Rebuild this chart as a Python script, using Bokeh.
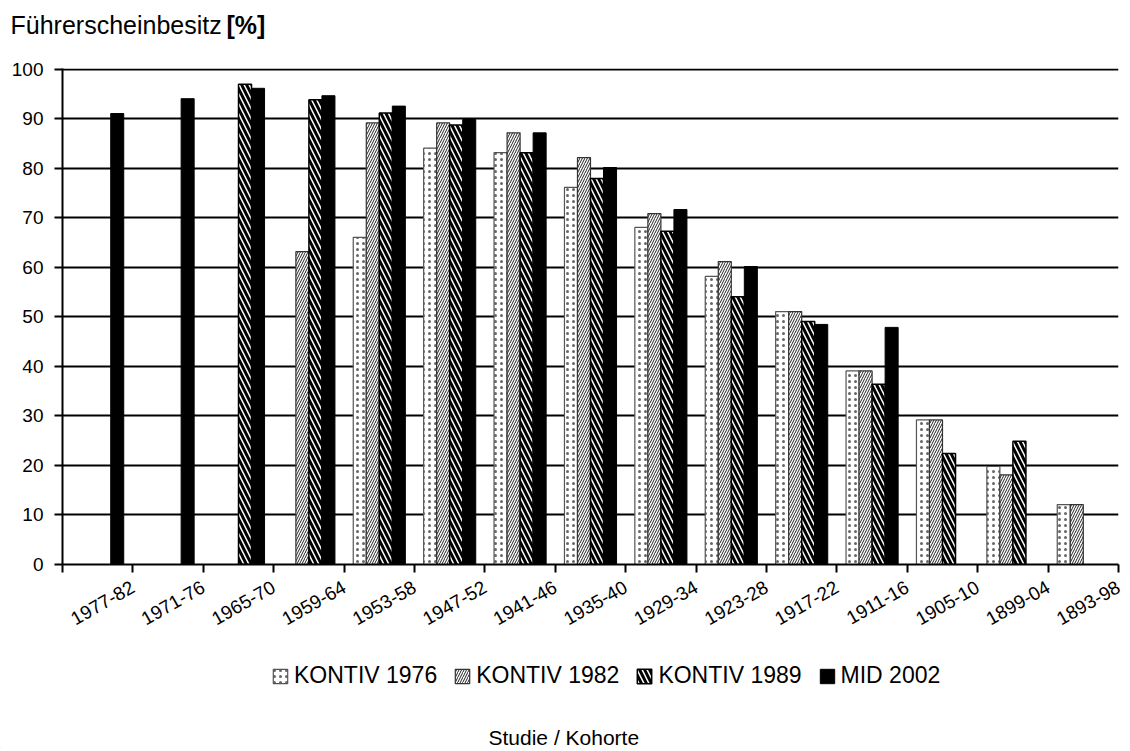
import numpy as np
from bokeh.plotting import figure
from bokeh.layouts import column
from bokeh.models import Range1d, FixedTicker, Legend, LegendItem, Label, ColumnDataSource
from bokeh.embed import file_html
from bokeh.resources import INLINE

cohorts = ["1977-82", "1971-76", "1965-70", "1959-64", "1953-58", "1947-52", "1941-46",
           "1935-40", "1929-34", "1923-28", "1917-22", "1911-16", "1905-10", "1899-04", "1893-98"]
kontiv_1976 = [None, None, None, None, 66.1, 84.1, 83.2, 76.2, 68.1, 58.2, 51.1, 39.1, 29.2, 19.8, 12.1]
kontiv_1982 = [None, None, None, 63.2, 89.2, 89.2, 87.2, 82.2, 70.9, 61.2, 51.1, 39.1, 29.2, 18.1, 12.1]
kontiv_1989 = [None, None, 97.0, 93.9, 91.2, 88.8, 83.2, 78.0, 67.3, 54.1, 49.1, 36.4, 22.4, 24.9, None]
mid_2002 = [91.1, 94.1, 96.2, 94.7, 92.6, 89.9, 87.2, 80.2, 71.7, 60.2, 48.5, 47.9, None, None, None]
series_names = ["KONTIV 1976", "KONTIV 1982", "KONTIV 1989", "MID 2002"]
y_ticks = [0, 10, 20, 30, 40, 50, 60, 70, 80, 90, 100]

FONT = "Liberation Sans"
W = 1126
n = len(cohorts)
bw = 0.185

styles = [
    dict(fill_color="white", line_color="#555555", line_width=1.2,
         hatch_pattern="dot", hatch_color="#666666", hatch_scale=6, hatch_weight=1.2),
    dict(fill_color="white", line_color="#333333", line_width=1.2,
         hatch_pattern="right_diagonal_line", hatch_color="#222222", hatch_scale=5, hatch_weight=1),
    dict(fill_color="white", line_color="black", line_width=1.5,
         hatch_pattern="left_diagonal_line", hatch_color="black", hatch_scale=10, hatch_weight=3),
    dict(fill_color="black", line_color="black", line_width=1),
]


def blank(height):
    f = figure(output_backend="svg", toolbar_location=None, width=W, height=height,
               min_border_left=0, min_border_right=0, min_border_top=0, min_border_bottom=0,
               x_range=Range1d(0, W), y_range=Range1d(0, height),
               x_axis_location=None, y_axis_location=None, frame_align=False)
    f.xgrid.visible = False
    f.ygrid.visible = False
    f.outline_line_color = None
    f.background_fill_color = "white"
    f.border_fill_color = "white"
    return f


# ---- top: y-axis title
top = blank(48)
top.add_layout(Label(x=10, y=24, text="Führerscheinbesitz", text_font=FONT,
                     text_font_size="25px", text_baseline="middle", text_color="black"))
top.add_layout(Label(x=226, y=24, text="[%]", text_font=FONT, text_font_size="25px",
                     text_font_style="bold", text_baseline="middle", text_color="black"))

# ---- main chart
p = figure(output_backend="svg", toolbar_location=None,
           width=W, height=588,
           min_border_left=62, min_border_right=8, min_border_top=20, min_border_bottom=72,
           x_range=Range1d(0, n), y_range=Range1d(0, 100.2))
p.outline_line_color = None
p.background_fill_color = "white"
p.border_fill_color = "white"

p.xgrid.visible = False
p.ygrid.ticker = FixedTicker(ticks=y_ticks)
p.ygrid.grid_line_color = "black"
p.ygrid.grid_line_width = 2

p.yaxis.ticker = FixedTicker(ticks=y_ticks)
p.yaxis.axis_line_color = "black"
p.yaxis.axis_line_width = 2
p.yaxis.major_tick_line_width = 2
p.yaxis.major_tick_out = 8
p.yaxis.major_tick_in = 0
p.yaxis.minor_tick_line_color = None
p.yaxis.major_label_text_font = FONT
p.yaxis.major_label_text_font_size = "19px"
p.yaxis.major_label_text_color = "black"
p.yaxis.major_label_standoff = 11

p.xaxis.ticker = FixedTicker(ticks=list(range(n + 1)))
overrides = {0: ""}
for i, c in enumerate(cohorts):
    overrides[i + 1] = c
p.xaxis.major_label_overrides = overrides
p.xaxis.major_label_orientation = 0.52
p.xaxis.axis_line_color = "black"
p.xaxis.axis_line_width = 2
p.xaxis.major_tick_line_width = 2
p.xaxis.major_tick_out = 8
p.xaxis.major_tick_in = 0
p.xaxis.minor_tick_line_color = None
p.xaxis.major_label_text_font = FONT
p.xaxis.major_label_text_font_size = "19px"
p.xaxis.major_label_text_color = "black"
p.xaxis.major_label_standoff = 13

offsets = [-1.5 * bw, -0.5 * bw, 0.5 * bw, 1.5 * bw]
series = [kontiv_1976, kontiv_1982, kontiv_1989, mid_2002]
for name, vals, off, st in zip(series_names, series, offsets, styles):
    xs = [i + 0.5 + off for i, v in enumerate(vals) if v is not None]
    tops = [v for v in vals if v is not None]
    src = ColumnDataSource(dict(x=xs, top=tops))
    p.vbar(x="x", top="top", bottom=0, width=bw, source=src, **st)

# ---- bottom: legend + x-axis title
bot = blank(112)
items = []
for name, st in zip(series_names, styles):
    # legend proxy glyph, placed outside the visible range
    proxy = ColumnDataSource(dict(x=[-10000], top=[0]))
    r = bot.vbar(x="x", top="top", bottom=0, width=1, source=proxy, **st)
    items.append(LegendItem(label=name, renderers=[r]))
legend = Legend(items=items, orientation="horizontal", location=(271, 59),
                label_text_font=FONT, label_text_font_size="23px", label_text_color="black",
                glyph_width=18, glyph_height=18, label_standoff=5, spacing=16,
                border_line_color=None, background_fill_alpha=0, padding=0, margin=0)
bot.add_layout(legend)
bot.add_layout(Label(x=488, y=11, text="Studie / Kohorte", text_font=FONT,
                     text_font_size="21px", text_baseline="middle", text_color="black"))

layout = column(top, p, bot, spacing=0)
open("out.html", "w").write(file_html(layout, INLINE))
